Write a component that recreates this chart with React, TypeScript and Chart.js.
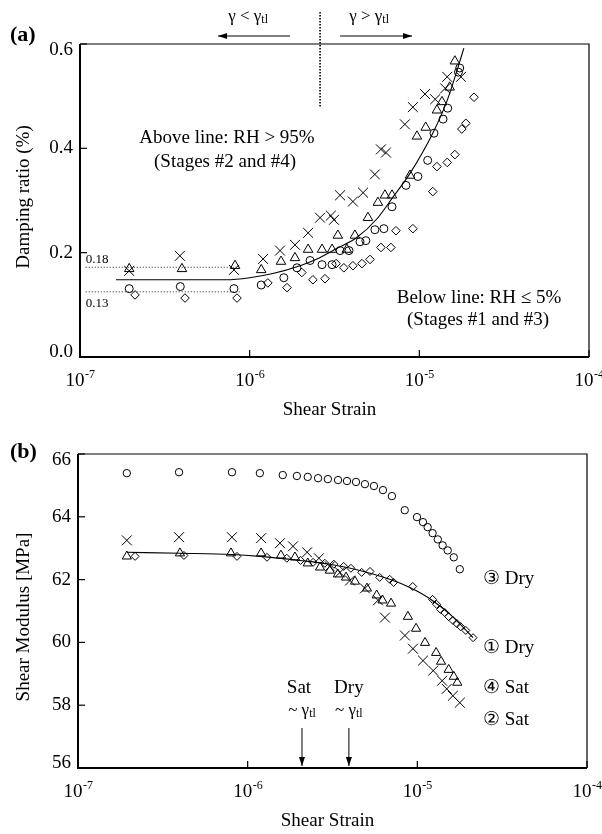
import React, { useEffect, useRef } from "react";
import { Chart, registerables } from "chart.js";
Chart.register(...registerables);

const SERIF = '"Liberation Serif", "Times New Roman", Times, serif';

// ---------- (a) Damping ratio vs shear strain ----------
const A_X_CROSS = [1.95e-7, 3.88e-7, 8.08e-7, 1.2e-6, 1.51e-6, 1.85e-6, 2.21e-6, 2.6e-6, 3.01e-6, 3.14e-6, 3.41e-6, 4.06e-6, 4.66e-6, 5.47e-6, 5.94e-6, 6.36e-6, 8.22e-6, 9.16e-6, 1.08e-5, 1.24e-5, 1.42e-5, 1.46e-5, 1.76e-5];
const A_Y_CROSS = [0.165, 0.194, 0.167, 0.188, 0.204, 0.215, 0.238, 0.267, 0.271, 0.263, 0.31, 0.298, 0.315, 0.35, 0.398, 0.392, 0.446, 0.479, 0.504, 0.494, 0.515, 0.537, 0.537];

const A_X_TRI = [1.95e-7, 3.99e-7, 8.2e-7, 1.17e-6, 1.53e-6, 1.85e-6, 2.21e-6, 2.67e-6, 3.06e-6, 3.31e-6, 3.74e-6, 4.17e-6, 4.98e-6, 5.7e-6, 6.27e-6, 6.9e-6, 8.81e-6, 9.68e-6, 1.09e-5, 1.27e-5, 1.36e-5, 1.51e-5, 1.62e-5];
const A_Y_TRI = [0.169, 0.169, 0.175, 0.167, 0.183, 0.19, 0.206, 0.206, 0.206, 0.233, 0.206, 0.233, 0.267, 0.296, 0.31, 0.31, 0.348, 0.423, 0.44, 0.473, 0.489, 0.517, 0.567];

const A_X_CIR = [1.95e-7, 3.9e-7, 8.08e-7, 1.17e-6, 1.59e-6, 1.9e-6, 2.27e-6, 2.67e-6, 3.06e-6, 3.41e-6, 3.85e-6, 4.47e-6, 4.84e-6, 5.47e-6, 6.18e-6, 6.9e-6, 8.34e-6, 9.81e-6, 1.12e-5, 1.22e-5, 1.38e-5, 1.47e-5, 1.7e-5, 1.73e-5];
const A_Y_CIR = [0.131, 0.135, 0.131, 0.138, 0.152, 0.171, 0.185, 0.177, 0.177, 0.204, 0.204, 0.221, 0.223, 0.244, 0.246, 0.288, 0.329, 0.346, 0.377, 0.429, 0.456, 0.477, 0.546, 0.554];

const A_X_DIA = [2.11e-7, 4.16e-7, 8.42e-7, 1.28e-6, 1.66e-6, 2.03e-6, 2.36e-6, 2.78e-6, 3.23e-6, 3.59e-6, 4.06e-6, 4.59e-6, 5.12e-6, 5.94e-6, 6.8e-6, 7.28e-6, 9.16e-6, 1.2e-5, 1.27e-5, 1.46e-5, 1.62e-5, 1.78e-5, 1.88e-5, 2.1e-5];
const A_Y_DIA = [0.119, 0.113, 0.113, 0.142, 0.133, 0.162, 0.148, 0.15, 0.179, 0.171, 0.175, 0.179, 0.187, 0.21, 0.21, 0.242, 0.246, 0.317, 0.365, 0.373, 0.388, 0.437, 0.448, 0.498];

const A_FIT_X = [1.63e-7, 7.3e-7, 1.0e-6, 1.37e-6, 1.98e-6, 2.49e-6, 3.3e-6, 4.28e-6, 5.63e-6, 6.97e-6, 8.81e-6, 1.2e-5, 1.46e-5, 1.67e-5, 1.83e-5];
const A_FIT_Y = [0.148, 0.148, 0.152, 0.16, 0.175, 0.188, 0.209, 0.229, 0.265, 0.306, 0.352, 0.429, 0.492, 0.55, 0.592];

const A_Y_TICKS = [0, 0.2, 0.4, 0.6];
const A_Y_LABELS = ["0.0", "0.2", "0.4", "0.6"];
const A_REF_LEVELS = [0.172, 0.125];
const A_REF_LABELS = ["0.18", "0.13"];
const A_REF_RANGE = [1.08e-7, 8.8e-7];
const A_THRESHOLD = 2.6e-6;

// ---------- (b) Shear modulus vs shear strain ----------
const B_X_CIR = [1.94e-7, 3.94e-7, 8.08e-7, 1.18e-6, 1.61e-6, 1.95e-6, 2.26e-6, 2.6e-6, 2.97e-6, 3.41e-6, 3.85e-6, 4.35e-6, 4.91e-6, 5.55e-6, 6.27e-6, 7.08e-6, 8.43e-6, 9.95e-6, 1.08e-5, 1.15e-5, 1.23e-5, 1.32e-5, 1.41e-5, 1.51e-5, 1.64e-5, 1.78e-5];
const B_Y_CIR = [65.39, 65.42, 65.42, 65.39, 65.33, 65.3, 65.27, 65.23, 65.2, 65.17, 65.14, 65.11, 65.04, 64.98, 64.85, 64.66, 64.21, 63.99, 63.83, 63.67, 63.48, 63.28, 63.09, 62.93, 62.71, 62.33];

const B_X_CROSS = [1.94e-7, 3.94e-7, 8.08e-7, 1.2e-6, 1.55e-6, 1.85e-6, 2.24e-6, 2.63e-6, 3.05e-6, 3.5e-6, 4.01e-6, 4.91e-6, 5.86e-6, 6.44e-6, 8.45e-6, 9.42e-6, 1.08e-5, 1.24e-5, 1.4e-5, 1.49e-5, 1.62e-5, 1.78e-5];
const B_Y_CROSS = [63.25, 63.35, 63.35, 63.32, 63.16, 63.06, 62.87, 62.68, 62.42, 62.23, 61.97, 61.72, 61.34, 60.79, 60.22, 59.8, 59.42, 59.1, 58.78, 58.52, 58.3, 58.08];

const B_X_TRI = [1.94e-7, 3.99e-7, 7.97e-7, 1.2e-6, 1.57e-6, 1.9e-6, 2.26e-6, 2.67e-6, 3.05e-6, 3.4e-6, 3.8e-6, 4.29e-6, 5.05e-6, 5.76e-6, 6.23e-6, 7.0e-6, 8.8e-6, 9.83e-6, 1.11e-5, 1.29e-5, 1.38e-5, 1.53e-5, 1.64e-5, 1.72e-5];
const B_Y_TRI = [62.74, 62.84, 62.84, 62.84, 62.77, 62.71, 62.52, 62.39, 62.29, 62.17, 62.07, 61.94, 61.72, 61.5, 61.34, 61.24, 60.82, 60.44, 59.99, 59.67, 59.39, 59.13, 58.91, 58.72];

const B_X_DIA = [2.17e-7, 4.21e-7, 8.65e-7, 1.3e-6, 1.7e-6, 2.05e-6, 2.43e-6, 2.85e-6, 3.22e-6, 3.68e-6, 4.06e-6, 4.7e-6, 5.26e-6, 6.0e-6, 6.87e-6, 7.25e-6, 9.4e-6, 1.23e-5, 1.3e-5, 1.37e-5, 1.45e-5, 1.53e-5, 1.62e-5, 1.71e-5, 1.8e-5, 1.93e-5, 2.13e-5];
const B_Y_DIA = [62.74, 62.77, 62.74, 62.71, 62.68, 62.61, 62.55, 62.52, 62.49, 62.42, 62.36, 62.23, 62.26, 62.07, 62.01, 61.91, 61.78, 61.37, 61.21, 61.05, 60.95, 60.82, 60.7, 60.6, 60.5, 60.38, 60.15];

const B_FIT_X = [1.94e-7, 3.99e-7, 8.08e-7, 1.18e-6, 2.03e-6, 3.05e-6, 4.59e-6, 6.87e-6, 9.03e-6, 1.18e-5, 1.56e-5, 2.13e-5];
const B_FIT_Y = [62.87, 62.84, 62.8, 62.74, 62.61, 62.49, 62.29, 62.01, 61.75, 61.4, 60.89, 60.15];

const B_Y_TICKS = [56, 58, 60, 62, 64, 66];
const B_Y_LABELS = ["56", "58", "60", "62", "64", "66"];
const B_SAT_X = 2.09e-6;
const B_DRY_X = 3.95e-6;
const B_SERIES_LABELS = ["\u2462 Dry", "\u2460 Dry", "\u2463 Sat", "\u2461 Sat"];

const X_TICKS = [1e-7, 1e-6, 1e-5, 1e-4];
const X_TICK_EXP = ["-7", "-6", "-5", "-4"];

const pts = (xs: number[], ys: number[]) => xs.map((x, i) => ({ x, y: ys[i] }));

function marker(style: string, r: number, data: any[]) {
  return {
    data,
    pointStyle: style,
    pointRadius: r,
    pointHoverRadius: r,
    pointBorderColor: "#000",
    pointBackgroundColor: "rgba(0,0,0,0)",
    pointBorderWidth: 1,
    showLine: false,
    borderColor: "#000",
    backgroundColor: "rgba(0,0,0,0)",
  };
}
function fitLine(data: any[]) {
  return {
    data,
    showLine: true,
    pointRadius: 0,
    pointHoverRadius: 0,
    borderColor: "#000",
    borderWidth: 1.1,
    cubicInterpolationMode: "monotone",
    fill: false,
  };
}

function line(ctx: CanvasRenderingContext2D, x1: number, y1: number, x2: number, y2: number) {
  ctx.beginPath();
  ctx.moveTo(x1, y1);
  ctx.lineTo(x2, y2);
  ctx.stroke();
}

function arrow(ctx: CanvasRenderingContext2D, x1: number, y1: number, x2: number, y2: number) {
  ctx.save();
  ctx.strokeStyle = "#000";
  ctx.fillStyle = "#000";
  ctx.lineWidth = 1;
  line(ctx, x1, y1, x2, y2);
  const ang = Math.atan2(y2 - y1, x2 - x1);
  const L = 9, W = 3;
  ctx.beginPath();
  ctx.moveTo(x2, y2);
  ctx.lineTo(x2 - L * Math.cos(ang) + W * Math.sin(ang), y2 - L * Math.sin(ang) - W * Math.cos(ang));
  ctx.lineTo(x2 - L * Math.cos(ang) - W * Math.sin(ang), y2 - L * Math.sin(ang) + W * Math.cos(ang));
  ctx.closePath();
  ctx.fill();
  ctx.restore();
}

function drawPow(ctx: CanvasRenderingContext2D, cx: number, base: number, main: string, exp: string) {
  ctx.save();
  ctx.textAlign = "left";
  ctx.textBaseline = "alphabetic";
  ctx.font = `19px ${SERIF}`;
  const w1 = ctx.measureText(main).width;
  ctx.font = `12px ${SERIF}`;
  const w2 = ctx.measureText(exp).width;
  const start = cx - (w1 + w2) / 2;
  ctx.font = `19px ${SERIF}`;
  ctx.fillText(main, start, base);
  ctx.font = `12px ${SERIF}`;
  ctx.fillText(exp, start + w1 + 0.5, base - 8);
  ctx.restore();
}

function drawSub(ctx: CanvasRenderingContext2D, cx: number, base: number, main: string, sub: string, size: number) {
  ctx.save();
  ctx.textAlign = "left";
  ctx.textBaseline = "alphabetic";
  ctx.font = `${size}px ${SERIF}`;
  const w1 = ctx.measureText(main).width;
  ctx.font = `${Math.round(size * 0.68)}px ${SERIF}`;
  const w2 = ctx.measureText(sub).width;
  const start = cx - (w1 + w2) / 2;
  ctx.font = `${size}px ${SERIF}`;
  ctx.fillText(main, start, base);
  ctx.font = `${Math.round(size * 0.68)}px ${SERIF}`;
  ctx.fillText(sub, start + w1, base + 2);
  ctx.restore();
}

function drawText(ctx: CanvasRenderingContext2D, text: string, x: number, y: number, size: number, align: CanvasTextAlign = "center", bold = false) {
  ctx.save();
  ctx.font = `${bold ? "bold " : ""}${size}px ${SERIF}`;
  ctx.fillStyle = "#000";
  ctx.textAlign = align;
  ctx.textBaseline = "alphabetic";
  ctx.fillText(text, x, y);
  ctx.restore();
}

function drawFrame(chart: any, yTicks: number[], yLabels: string[], yTitle: string, yTitleCenter: number) {
  const { ctx, chartArea: a, scales } = chart;
  const xs = scales.x, ys = scales.y;
  ctx.save();
  ctx.strokeStyle = "#000";
  ctx.fillStyle = "#000";
  ctx.lineWidth = 1.2;
  ctx.beginPath();
  ctx.moveTo(a.left, a.top);
  ctx.lineTo(a.right, a.top);
  ctx.lineTo(a.right, a.bottom);
  ctx.stroke();
  ctx.lineWidth = 2;
  ctx.beginPath();
  ctx.moveTo(a.left, a.top);
  ctx.lineTo(a.left, a.bottom);
  ctx.lineTo(a.right, a.bottom);
  ctx.stroke();
  ctx.lineWidth = 1.2;
  for (const v of X_TICKS) {
    const px = xs.getPixelForValue(v);
    line(ctx, px, a.bottom, px, a.bottom - 7);
  }
  for (const v of yTicks) {
    const py = ys.getPixelForValue(v);
    line(ctx, a.left, py, a.left + 7, py);
  }
  ctx.font = `19px ${SERIF}`;
  ctx.textAlign = "right";
  ctx.textBaseline = "middle";
  yTicks.forEach((v, i) => {
    let py = ys.getPixelForValue(v);
    py = Math.min(Math.max(py, a.top + 6), a.bottom - 5);
    ctx.fillText(yLabels[i], a.left - 7, py);
  });
  X_TICKS.forEach((v, i) => drawPow(ctx, xs.getPixelForValue(v), a.bottom + 29, "10", X_TICK_EXP[i]));
  drawText(ctx, "Shear Strain", (a.left + a.right) / 2 - 5, a.bottom + 58, 19);
  ctx.save();
  ctx.translate(29, yTitleCenter);
  ctx.rotate(-Math.PI / 2);
  ctx.font = `19px ${SERIF}`;
  ctx.textAlign = "center";
  ctx.textBaseline = "alphabetic";
  ctx.fillText(yTitle, 0, 0);
  ctx.restore();
  ctx.restore();
}

function baseOptions(yMin: number, yMax: number, yWidth: number, pad: any, plugin: (c: any) => void) {
  return {
    responsive: false,
    animation: false,
    events: [],
    layout: { padding: pad },
    plugins: { legend: { display: false }, tooltip: { enabled: false } },
    scales: {
      x: {
        type: "logarithmic",
        min: 1e-7,
        max: 1e-4,
        grid: { display: false },
        border: { display: false },
        ticks: { display: false },
        afterFit: (s: any) => { s.height = 40; },
      },
      y: {
        type: "linear",
        min: yMin,
        max: yMax,
        grid: { display: false },
        border: { display: false },
        ticks: { display: false },
        afterFit: (s: any) => { s.width = yWidth; },
      },
    },
  };
}

const plotAPlugin = {
  id: "plotA",
  afterDraw(chart: any) {
    const { ctx, chartArea: a, scales } = chart;
    const xs = scales.x, ys = scales.y;
    drawFrame(chart, A_Y_TICKS, A_Y_LABELS, "Damping ratio (%)", 197);
    ctx.save();
    // reference dotted levels
    ctx.strokeStyle = "#444";
    ctx.lineWidth = 1;
    ctx.setLineDash([1.2, 1.8]);
    A_REF_LEVELS.forEach((lv) => {
      const py = ys.getPixelForValue(lv);
      line(ctx, xs.getPixelForValue(A_REF_RANGE[0]), py, xs.getPixelForValue(A_REF_RANGE[1]), py);
    });
    ctx.setLineDash([]);
    const x0 = xs.getPixelForValue(A_REF_RANGE[0]);
    drawText(ctx, A_REF_LABELS[0], x0, ys.getPixelForValue(A_REF_LEVELS[0]) - 4, 13, "left");
    drawText(ctx, A_REF_LABELS[1], x0, ys.getPixelForValue(A_REF_LEVELS[1]) + 15, 13, "left");
    // threshold line
    const tx = xs.getPixelForValue(A_THRESHOLD);
    ctx.strokeStyle = "#000";
    ctx.lineWidth = 1.6;
    ctx.setLineDash([1.5, 1.5]);
    line(ctx, tx, a.top - 32, tx, a.top + 64);
    ctx.setLineDash([]);
    arrow(ctx, tx - 30, a.top - 8, tx - 102, a.top - 8);
    arrow(ctx, tx + 20, a.top - 8, tx + 92, a.top - 8);
    ctx.fillStyle = "#000";
    drawSub(ctx, tx - 72, a.top - 23, "\u03b3 < \u03b3", "tl", 17);
    drawSub(ctx, tx + 49, a.top - 23, "\u03b3 > \u03b3", "tl", 17);
    drawText(ctx, "Above line: RH > 95%", 227, 143, 19);
    drawText(ctx, "(Stages #2 and #4)", 225, 167, 19);
    drawText(ctx, "Below line: RH \u2264 5%", 479, 303, 19);
    drawText(ctx, "(Stages #1 and #3)", 478, 325, 19);
    drawText(ctx, "(a)", 10, 41, 22, "left", true);
    ctx.restore();
  },
};

const plotBPlugin = {
  id: "plotB",
  afterDraw(chart: any) {
    const { ctx, chartArea: a, scales } = chart;
    const xs = scales.x;
    drawFrame(chart, B_Y_TICKS, B_Y_LABELS, "Shear Modulus [MPa]", 200);
    ctx.save();
    const sx = xs.getPixelForValue(B_SAT_X);
    const dx = xs.getPixelForValue(B_DRY_X);
    drawText(ctx, "Sat", sx - 3, a.bottom - 75, 19);
    drawText(ctx, "Dry", dx, a.bottom - 75, 19);
    ctx.fillStyle = "#000";
    drawSub(ctx, sx, a.bottom - 53, "~ \u03b3", "tl", 17);
    drawSub(ctx, dx, a.bottom - 53, "~ \u03b3", "tl", 17);
    arrow(ctx, sx, a.bottom - 40, sx, a.bottom - 2);
    arrow(ctx, dx, a.bottom - 40, dx, a.bottom - 2);
    const lx = 483;
    drawText(ctx, B_SERIES_LABELS[0], lx, 167, 19, "left");
    drawText(ctx, B_SERIES_LABELS[1], lx, 236, 19, "left");
    drawText(ctx, B_SERIES_LABELS[2], lx, 276, 19, "left");
    drawText(ctx, B_SERIES_LABELS[3], lx, 308, 19, "left");
    drawText(ctx, "(b)", 10, 41, 22, "left", true);
    ctx.restore();
  },
};

export default function App() {
  const r1 = useRef<HTMLCanvasElement>(null);
  const r2 = useRef<HTMLCanvasElement>(null);
  useEffect(() => {
    const cA = new Chart(r1.current as HTMLCanvasElement, {
      type: "scatter",
      data: {
        datasets: [
          fitLine(pts(A_FIT_X, A_FIT_Y)),
          marker("crossRot", 7, pts(A_X_CROSS, A_Y_CROSS)),
          marker("triangle", 5.5, pts(A_X_TRI, A_Y_TRI)),
          marker("circle", 4, pts(A_X_CIR, A_Y_CIR)),
          marker("rectRot", 4.3, pts(A_X_DIA, A_Y_DIA)),
        ] as any,
      },
      options: baseOptions(0, 0.6, 80, { left: 0, right: 13, top: 44, bottom: 20 }, () => {}) as any,
      plugins: [plotAPlugin],
    });
    const cB = new Chart(r2.current as HTMLCanvasElement, {
      type: "scatter",
      data: {
        datasets: [
          fitLine(pts(B_FIT_X, B_FIT_Y)),
          marker("circle", 3.7, pts(B_X_CIR, B_Y_CIR)),
          marker("crossRot", 7, pts(B_X_CROSS, B_Y_CROSS)),
          marker("triangle", 5.3, pts(B_X_TRI, B_Y_TRI)),
          marker("rectRot", 4, pts(B_X_DIA, B_Y_DIA)),
        ] as any,
      },
      options: baseOptions(56, 66, 78, { left: 0, right: 15, top: 37, bottom: 26 }, () => {}) as any,
      plugins: [plotBPlugin],
    });
    return () => {
      cA.destroy();
      cB.destroy();
    };
  }, []);
  return (
    <div style={{ position: "absolute", left: 0, top: 0, width: 602, height: 834, background: "#fff" }}>
      <canvas ref={r1} width={602} height={417} style={{ display: "block" }} />
      <canvas ref={r2} width={602} height={417} style={{ display: "block" }} />
    </div>
  );
}
